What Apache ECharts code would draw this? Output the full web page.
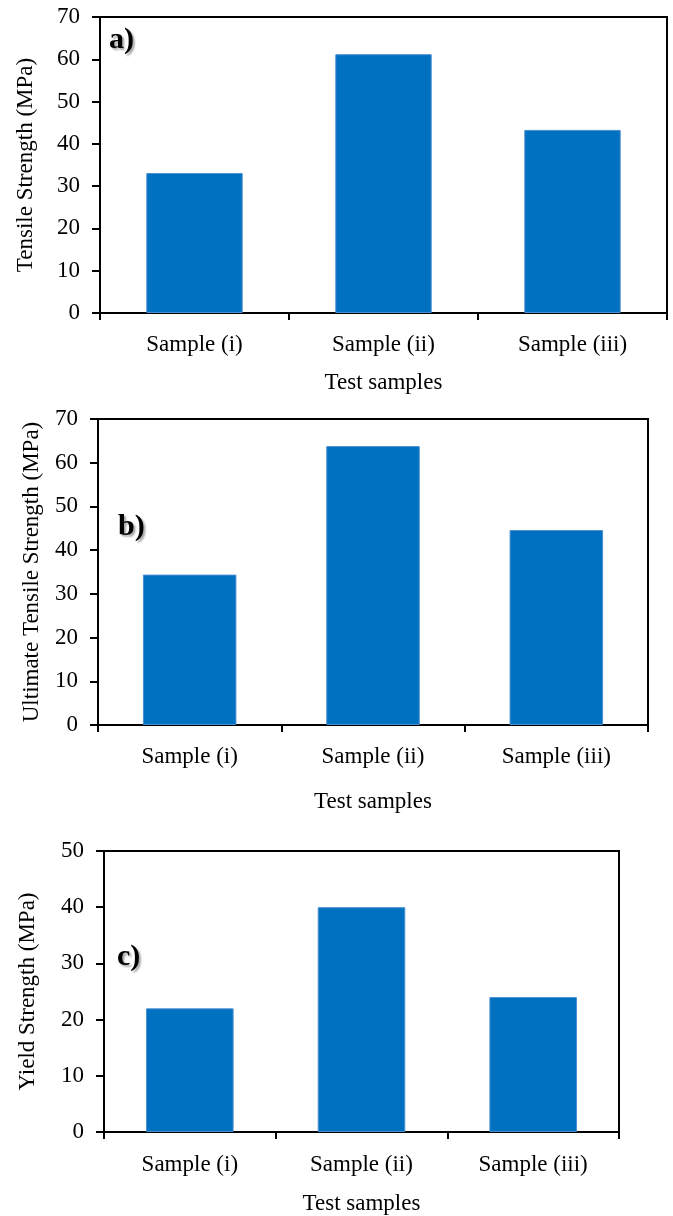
<!DOCTYPE html>
<html>
<head>
<meta charset="utf-8">
<script src="https://cdn.jsdelivr.net/npm/echarts@6/dist/echarts.min.js"></script>
<style>
  html, body { margin: 0; padding: 0; background: #fff; }
  #chart { width: 673px; height: 1216px; }
</style>
</head>
<body>
<div id="chart"></div>
<script>
// Sample names shared by all three panels
const categories = ['Sample (i)', 'Sample (ii)', 'Sample (iii)'];
// Strength values in MPa
const tensileStrength = [33.1, 61.2, 43.3];
const ultimateTensileStrength = [34.4, 63.8, 44.6];
const yieldStrength = [22.0, 40.0, 24.0];
// Panel labels and axis titles
const panelLabels = ['a)', 'b)', 'c)'];
const yTitles = ['Tensile Strength (MPa)', 'Ultimate Tensile Strength (MPa)', 'Yield Strength (MPa)'];
const xTitle = 'Test samples';
const yMax = [70, 70, 50];

const FONT = '"Liberation Serif", "Times New Roman", serif';
const BAR = '#0070C0';

const grids = [
  { left: 100, top: 17, width: 567, height: 296 },
  { left: 98, top: 419, width: 550, height: 306 },
  { left: 104, top: 851, width: 515, height: 284 }
];
const xNameGap = [58, 65, 60];
const yNameGap = [63, 55, 65];
const catMargin = [20, 20, 21];
const labelPos = [
  { left: 109, top: 25 },
  { left: 118, top: 512 },
  { left: 117, top: 942 }
];
const seriesData = [tensileStrength, ultimateTensileStrength, yieldStrength];

const axisLine = { show: true, lineStyle: { color: '#000', width: 2 } };

const option = {
  backgroundColor: '#fff',
  animation: false,
  title: panelLabels.map((t, i) => ({
    text: t,
    left: labelPos[i].left,
    top: labelPos[i].top,
    padding: 0,
    textStyle: {
      fontFamily: FONT, fontSize: 30, fontWeight: 'bold', color: '#000',
      textShadowColor: 'rgba(0,0,0,0.35)', textShadowOffsetX: 2, textShadowOffsetY: 2, textShadowBlur: 2
    }
  })),
  grid: grids.map(g => Object.assign({ show: true, borderColor: '#000', borderWidth: 2, backgroundColor: 'transparent' }, g)),
  xAxis: grids.map((g, i) => ({
    type: 'category',
    gridIndex: i,
    data: categories,
    name: xTitle,
    nameLocation: 'middle',
    nameGap: xNameGap[i],
    nameTextStyle: { fontFamily: FONT, fontSize: 23, color: '#000' },
    axisLine: axisLine,
    axisTick: { show: true, alignWithLabel: false, length: 7, inside: false, lineStyle: { color: '#000', width: 2 } },
    axisLabel: { fontFamily: FONT, fontSize: 23, color: '#000', margin: catMargin[i] },
    splitLine: { show: false }
  })),
  yAxis: grids.map((g, i) => ({
    type: 'value',
    gridIndex: i,
    min: 0,
    max: yMax[i],
    interval: 10,
    name: yTitles[i],
    nameLocation: 'middle',
    nameGap: yNameGap[i],
    nameTextStyle: { fontFamily: FONT, fontSize: 23, color: '#000' },
    axisLine: axisLine,
    axisTick: { show: true, length: 8, inside: false, lineStyle: { color: '#000', width: 2 } },
    axisLabel: { fontFamily: FONT, fontSize: 23, color: '#000', margin: 20 },
    splitLine: { show: false }
  })),
  series: seriesData.map((d, i) => ({
    type: 'bar',
    xAxisIndex: i,
    yAxisIndex: i,
    data: d,
    barWidth: '51%',
    itemStyle: { color: BAR, borderColor: '#4a8fd0', borderWidth: 1 }
  }))
};

const chart = echarts.init(document.getElementById('chart'), null, { renderer: 'canvas' });
chart.setOption(option);
</script>
</body>
</html>
